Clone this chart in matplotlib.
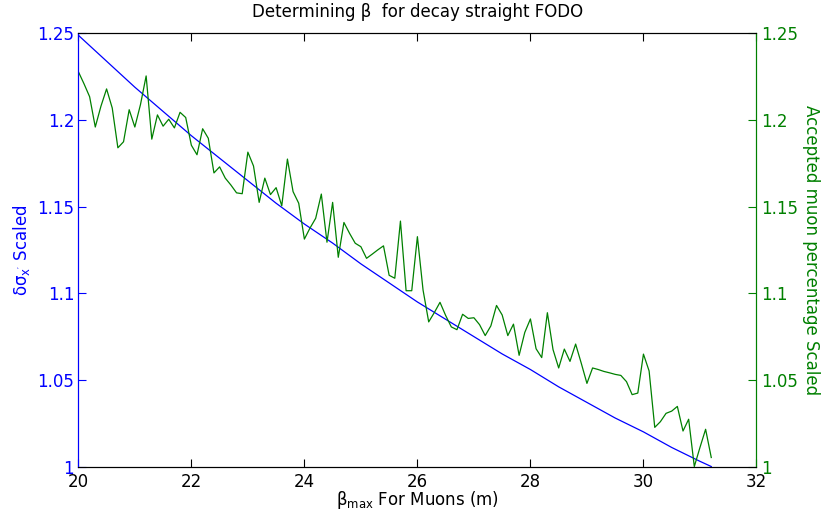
import numpy as np
import matplotlib
matplotlib.use('Agg')
import matplotlib.pyplot as plt
from matplotlib.ticker import FormatStrFormatter

# beta_max [m] sampled for the muon acceptance scan
beta_start = 20.0
beta_step = 0.1

# accepted muon percentage, scaled (green, right axis)
muon_scaled = [
    1.228, 1.221, 1.2135, 1.196, 1.208, 1.218, 1.207, 1.184, 1.1875, 1.206,
    1.196, 1.209, 1.2255, 1.189, 1.203, 1.1965, 1.2005, 1.1955, 1.2045, 1.2015,
    1.1855, 1.180, 1.195, 1.1895, 1.1695, 1.173, 1.1665, 1.1625, 1.158, 1.1575,
    1.1815, 1.1735, 1.1525, 1.1665, 1.157, 1.161, 1.1505, 1.1775, 1.1587, 1.152,
    1.1313, 1.1377, 1.1433, 1.1573, 1.1295, 1.1525, 1.1208, 1.1409, 1.1346, 1.1289,
    1.1269, 1.1202, 1.1226, 1.1251, 1.1274, 1.1104, 1.1087, 1.1417, 1.1015, 1.1015,
    1.1327, 1.1019, 1.0835, 1.0889, 1.0948, 1.0872, 1.0806, 1.079, 1.0879, 1.0855,
    1.0859, 1.0819, 1.0756, 1.0812, 1.093, 1.0875, 1.0756, 1.0822, 1.0642, 1.0774,
    1.0852, 1.068, 1.0629, 1.0888, 1.0675, 1.0569, 1.0678, 1.0607, 1.0707, 1.0596,
    1.048, 1.0569, 1.056, 1.0549, 1.0541, 1.0532, 1.0526, 1.049, 1.0415, 1.0424,
    1.0649, 1.0552, 1.0226, 1.0259, 1.0307, 1.032, 1.0347, 1.0205, 1.0273, 1.0,
    1.011, 1.0215, 1.0052,
]
beta_muon = beta_start + beta_step * np.arange(len(muon_scaled))

# scaled beam size (blue, left axis)
beta_sigma = [20, 20.5, 21, 21.5, 22, 22.5, 23, 23.5, 24, 24.5, 25, 25.5,
              26, 26.5, 27, 27.5, 28, 28.5, 29, 29.5, 30, 30.5, 31, 31.2]
sigma_scaled = [1.249, 1.234, 1.219, 1.205, 1.191, 1.178, 1.165, 1.152,
                1.140, 1.129, 1.117, 1.106, 1.095, 1.085, 1.075, 1.065,
                1.056, 1.046, 1.037, 1.028, 1.020, 1.011, 1.003, 1.0]

x_ticks = [20, 22, 24, 26, 28, 30, 32]
y_ticks = [1.0, 1.05, 1.1, 1.15, 1.2, 1.25]

plt.rcParams['font.family'] = 'DejaVu Sans'
plt.rcParams['mathtext.fontset'] = 'dejavusans'

fig = plt.figure(figsize=(8.21, 5.13), dpi=100)
ax1 = fig.add_axes([0.0954, 0.0906, 0.8260, 0.8441])
ax2 = ax1.twinx()

ax1.plot(beta_sigma, sigma_scaled, color='b', linewidth=0.9)
ax2.plot(beta_muon, muon_scaled, color='g', linewidth=0.9)

for ax in (ax1, ax2):
    ax.set_xlim(20, 32)
    ax.set_ylim(1.0, 1.25)
    ax.set_yticks(y_ticks)
    ax.yaxis.set_major_formatter(FormatStrFormatter('%g'))

ax1.set_xticks(x_ticks)
ax1.tick_params(axis='x', direction='in', top=True, length=6, labelsize=12, pad=5)
ax1.tick_params(axis='y', direction='in', colors='b', length=6, labelsize=12, pad=3)
ax2.tick_params(axis='y', direction='in', colors='g', length=6, labelsize=12, pad=3)
ax2.tick_params(axis='x', top=False, bottom=False)

ax1.spines['left'].set_color('b')
ax2.spines['left'].set_color('b')
ax2.spines['right'].set_color('g')
ax1.spines['right'].set_color('g')

ax1.set_title('Determining \u03b2  for decay straight FODO', fontsize=12, pad=12)
ax1.set_xlabel(r'$\mathregular{\beta_{max}}$ For Muons (m)', fontsize=12, labelpad=-2)
ax1.set_ylabel(r"$\mathregular{\delta\sigma_{x'}}$ Scaled", color='b', fontsize=12,
               labelpad=4)
ax2.set_ylabel('Accepted muon percentage Scaled', color='g', fontsize=12,
               rotation=270, labelpad=16)

fig.savefig('out.png', dpi=100)
